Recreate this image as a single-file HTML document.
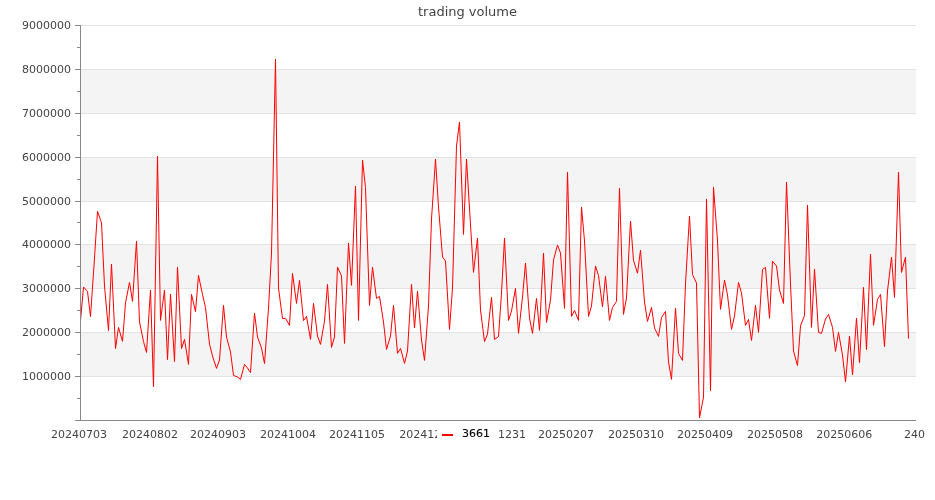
<!DOCTYPE html>
<html lang="en">
<head>
<meta charset="utf-8">
<title>trading volume</title>
<style>
html,body{margin:0;padding:0;background:#fff;}
body{width:935px;height:500px;overflow:hidden;}
svg{display:block;}
text{font-family:"DejaVu Sans","Liberation Sans",sans-serif;}
.lb{font-size:11px;fill:#444444;}
.tt{font-size:13px;fill:#444444;}
.lg{font-size:11px;fill:#000000;stroke:#000000;stroke-width:0.1px;}
</style>
</head>
<body>
<svg width="935" height="500" viewBox="0 0 935 500">
<rect x="0" y="0" width="935" height="500" fill="#ffffff"/>
<rect x="81" y="332" width="835" height="44" fill="#f4f4f4"/>
<rect x="81" y="244" width="835" height="44" fill="#f4f4f4"/>
<rect x="81" y="157" width="835" height="44" fill="#f4f4f4"/>
<rect x="81" y="69" width="835" height="44" fill="#f4f4f4"/>
<rect x="81" y="376" width="835" height="1" fill="#e3e3e3"/>
<rect x="81" y="332" width="835" height="1" fill="#e3e3e3"/>
<rect x="81" y="288" width="835" height="1" fill="#e3e3e3"/>
<rect x="81" y="244" width="835" height="1" fill="#e3e3e3"/>
<rect x="81" y="201" width="835" height="1" fill="#e3e3e3"/>
<rect x="81" y="157" width="835" height="1" fill="#e3e3e3"/>
<rect x="81" y="113" width="835" height="1" fill="#e3e3e3"/>
<rect x="81" y="69" width="835" height="1" fill="#e3e3e3"/>
<rect x="81" y="25" width="835" height="1" fill="#e3e3e3"/>
<rect x="75" y="420" width="5" height="1" fill="#888888"/>
<rect x="75" y="376" width="5" height="1" fill="#888888"/>
<rect x="75" y="332" width="5" height="1" fill="#888888"/>
<rect x="75" y="288" width="5" height="1" fill="#888888"/>
<rect x="75" y="244" width="5" height="1" fill="#888888"/>
<rect x="75" y="201" width="5" height="1" fill="#888888"/>
<rect x="75" y="157" width="5" height="1" fill="#888888"/>
<rect x="75" y="113" width="5" height="1" fill="#888888"/>
<rect x="75" y="69" width="5" height="1" fill="#888888"/>
<rect x="75" y="25" width="5" height="1" fill="#888888"/>
<rect x="77" y="398" width="3" height="1" fill="#888888"/>
<rect x="77" y="354" width="3" height="1" fill="#888888"/>
<rect x="77" y="310" width="3" height="1" fill="#888888"/>
<rect x="77" y="266" width="3" height="1" fill="#888888"/>
<rect x="77" y="222" width="3" height="1" fill="#888888"/>
<rect x="77" y="179" width="3" height="1" fill="#888888"/>
<rect x="77" y="135" width="3" height="1" fill="#888888"/>
<rect x="77" y="91" width="3" height="1" fill="#888888"/>
<rect x="77" y="47" width="3" height="1" fill="#888888"/>
<text x="71" y="380" text-anchor="end" class="lb">1000000</text>
<text x="71" y="336" text-anchor="end" class="lb">2000000</text>
<text x="71" y="292" text-anchor="end" class="lb">3000000</text>
<text x="71" y="248" text-anchor="end" class="lb">4000000</text>
<text x="71" y="205" text-anchor="end" class="lb">5000000</text>
<text x="71" y="161" text-anchor="end" class="lb">6000000</text>
<text x="71" y="117" text-anchor="end" class="lb">7000000</text>
<text x="71" y="73" text-anchor="end" class="lb">8000000</text>
<text x="71" y="29" text-anchor="end" class="lb">9000000</text>
<text x="79.0" y="438" text-anchor="middle" class="lb">20240703</text>
<text x="150.0" y="438" text-anchor="middle" class="lb">20240802</text>
<text x="218.1" y="438" text-anchor="middle" class="lb">20240903</text>
<text x="288.0" y="438" text-anchor="middle" class="lb">20241004</text>
<text x="357.1" y="438" text-anchor="middle" class="lb">20241105</text>
<text x="427.3" y="438" text-anchor="middle" class="lb">20241204</text>
<text x="497.9" y="438" text-anchor="middle" class="lb">20241231</text>
<text x="566.0" y="438" text-anchor="middle" class="lb">20250207</text>
<text x="636.0" y="438" text-anchor="middle" class="lb">20250310</text>
<text x="705.1" y="438" text-anchor="middle" class="lb">20250409</text>
<text x="775.1" y="438" text-anchor="middle" class="lb">20250508</text>
<text x="844.3" y="438" text-anchor="middle" class="lb">20250606</text>
<text x="914.5" y="438" text-anchor="middle" class="lb">240</text>
<text x="467.5" y="16" text-anchor="middle" class="tt">trading volume</text>
<polyline points="80.5,320.8 83.5,287.0 87.5,291.4 90.5,316.6 94.5,258.0 97.5,211.2 101.5,223.0 104.5,286.0 108.5,330.6 111.5,264.0 115.5,348.6 118.5,327.4 122.5,341.4 125.5,303.0 129.5,282.4 132.5,301.4 136.5,241.0 139.5,322.0 143.5,341.5 146.5,352.4 150.5,290.0 153.5,387.0 157.5,156.0 160.5,320.4 164.5,290.0 167.5,359.6 170.5,294.0 174.5,361.6 177.5,267.0 181.5,348.6 184.5,339.4 188.5,364.4 191.5,294.4 195.5,311.6 198.5,275.4 202.5,294.5 205.5,307.6 209.5,344.0 212.5,356.0 216.5,368.4 219.5,360.0 223.5,305.4 226.5,337.0 230.5,352.0 233.5,375.4 237.5,377.0 240.5,379.4 244.5,364.4 247.5,368.0 250.5,372.6 254.5,313.0 257.5,337.0 261.5,348.0 264.5,363.6 268.5,308.0 271.5,253.0 275.5,59.0 278.5,288.0 282.5,318.6 285.5,318.4 289.5,325.4 292.5,273.4 296.5,303.4 299.5,280.4 303.5,320.7 306.5,316.4 310.5,339.4 313.5,303.4 317.5,336.0 320.5,344.4 324.5,321.0 327.5,284.4 331.5,347.4 334.5,337.0 337.5,267.0 341.5,276.0 344.5,343.4 348.5,243.0 351.5,285.4 355.5,186.0 358.5,320.4 362.5,160.0 365.5,187.5 369.5,305.4 372.5,267.0 376.5,298.4 379.5,296.4 383.5,322.0 386.5,349.4 390.5,336.0 393.5,305.4 397.5,353.4 400.5,348.4 404.5,363.4 407.5,351.0 411.5,284.4 414.5,328.0 417.5,291.0 421.5,340.0 424.5,360.4 428.5,306.0 431.5,219.0 435.5,159.0 438.5,207.0 442.5,257.0 445.5,261.0 449.5,329.4 452.5,288.0 456.5,146.0 459.5,122.0 463.5,234.4 466.5,159.0 470.5,225.0 473.5,272.4 477.5,238.0 480.5,310.0 484.5,341.6 487.5,334.0 491.5,297.4 494.5,339.4 498.5,336.6 501.5,293.0 504.5,238.0 508.5,320.4 511.5,311.0 515.5,288.4 518.5,333.4 522.5,297.0 525.5,263.0 529.5,318.0 532.5,333.4 536.5,298.4 539.5,330.4 543.5,253.0 546.5,322.4 550.5,300.0 553.5,260.0 557.5,245.0 560.5,253.0 564.5,308.4 567.5,172.0 571.5,316.4 574.5,310.4 578.5,320.4 581.5,207.0 584.5,241.0 588.5,316.4 591.5,306.0 595.5,266.0 598.5,275.5 602.5,307.0 605.5,276.2 609.5,320.4 612.5,307.4 616.5,301.4 619.5,188.0 623.5,314.4 626.5,298.0 630.5,221.0 633.5,260.4 637.5,273.2 640.5,250.0 644.5,302.0 647.5,321.4 651.5,307.4 654.5,328.0 658.5,336.4 661.5,317.4 665.5,311.4 668.5,362.0 671.5,379.4 675.5,308.0 678.5,353.4 682.5,360.4 685.5,284.0 689.5,216.0 692.5,274.6 696.5,283.0 699.5,418.0 703.5,397.0 706.5,199.0 710.5,391.0 713.5,187.0 717.5,241.0 720.5,309.4 724.5,280.0 727.5,295.0 731.5,329.4 734.5,316.0 738.5,282.4 741.5,293.0 745.5,325.4 748.5,319.4 751.5,340.4 755.5,305.4 758.5,332.4 762.5,269.4 765.5,267.4 769.5,318.4 772.5,261.2 776.5,266.0 779.5,290.0 783.5,303.4 786.5,182.0 790.5,284.0 793.5,351.0 797.5,365.6 800.5,326.0 804.5,315.4 807.5,205.0 811.5,327.4 814.5,269.0 818.5,332.4 821.5,333.4 825.5,319.0 828.5,314.4 832.5,327.4 835.5,351.4 838.5,332.4 842.5,355.0 845.5,382.0 849.5,336.0 852.5,375.0 856.5,318.0 859.5,362.6 863.5,287.4 866.5,349.6 870.5,254.0 873.5,325.4 877.5,299.4 880.5,294.4 884.5,346.6 887.5,291.0 891.5,257.0 894.5,297.4 898.5,172.0 901.5,272.4 905.5,257.0 908.5,338.6" fill="none" stroke="#ff0000" stroke-width="1" stroke-linejoin="miter"/>
<rect x="80" y="25" width="1" height="396" fill="#888888"/>
<rect x="75" y="420" width="841" height="1" fill="#888888"/>
<rect x="437" y="424" width="61" height="20" fill="#ffffff"/>
<rect x="442" y="434" width="11" height="2" fill="#ff0000"/>
<text x="462" y="437" class="lg">3661</text>
</svg>
</body>
</html>
